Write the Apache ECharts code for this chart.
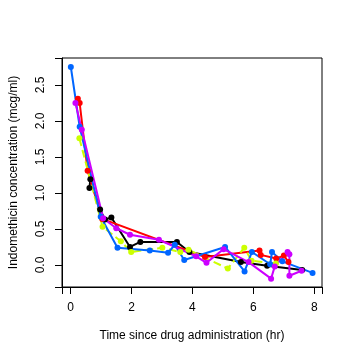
<!DOCTYPE html>
<html>
<head>
<meta charset="utf-8">
<script src="https://cdn.jsdelivr.net/npm/echarts@6/dist/echarts.min.js"></script>
<style>
  html, body { margin: 0; padding: 0; background: #fff; }
</style>
</head>
<body>
<div id="chart" style="width: 353px; height: 360px;"></div>
<script>
// time (hr) and concentration (mcg/ml), per colour
const blackX = [0.62, 0.65, 0.97, 1.13, 1.34, 1.95, 2.29, 3.49, 3.90, 5.59, 6.45, 7.60];
const blackY = [1.07, 1.19, 0.77, 0.63, 0.66, 0.25, 0.32, 0.32, 0.18, 0.04, -0.01, -0.07];

const redX = [0.24, 0.30, 0.56, 1.04, 4.41, 6.20, 6.24, 6.75, 7.00, 7.15];
const redY = [2.31, 2.25, 1.31, 0.64, 0.11, 0.20, 0.14, 0.09, 0.13, 0.04];

const yellowX = [0.29, 1.05, 1.65, 1.99, 3.01, 3.60, 3.87, 5.16, 5.70, 5.94, 6.74];
const yellowY = [1.76, 0.53, 0.33, 0.18, 0.24, 0.18, 0.21, -0.05, 0.24, 0.06, 0.02];

const blueX = [0.01, 0.30, 0.99, 1.54, 2.60, 3.20, 3.42, 3.73, 5.07, 5.71, 5.95, 6.55, 6.61, 6.95, 7.94];
const blueY = [2.75, 1.92, 0.67, 0.24, 0.20, 0.17, 0.28, 0.07, 0.25, -0.09, 0.18, 0.01, 0.18, 0.05, -0.11];

const magentaX = [0.16, 0.37, 1.07, 1.50, 1.95, 2.90, 4.12, 4.46, 5.02, 5.84, 6.58, 6.70, 7.12, 7.18, 7.18, 7.58];
const magentaY = [2.25, 1.88, 0.65, 0.51, 0.42, 0.35, 0.12, 0.03, 0.22, 0.04, -0.19, -0.02, 0.18, 0.15, -0.15, -0.08];

const xTicks = [0, 2, 4, 6, 8];
const yTicks = [0, 0.5, 1, 1.5, 2, 2.5];

const pairs = (xs, ys) => xs.map((x, i) => [x, ys[i]]);

const groups = [
  { name: 'black', color: '#000000', dash: 'solid', data: pairs(blackX, blackY) },
  { name: 'red', color: '#FF0000', dash: 'solid', data: pairs(redX, redY) },
  { name: 'yellow', color: '#CCFF00', dash: 'dashed', data: pairs(yellowX, yellowY) },
  { name: 'blue', color: '#0066FF', dash: 'solid', data: pairs(blueX, blueY) },
  { name: 'magenta', color: '#CC00FF', dash: 'solid', data: pairs(magentaX, magentaY) }
];

const font = 'Liberation Sans';
const tickStyle = { show: true, inside: false, length: 7, lineStyle: { color: '#000', width: 1 } };

const chart = echarts.init(document.getElementById('chart'));
chart.setOption({
  animation: false,
  grid: {
    left: 58, right: 31, top: 58, bottom: 73,
    show: true, borderColor: '#000', borderWidth: 1, backgroundColor: 'transparent'
  },
  xAxis: {
    type: 'value',
    min: -0.28, max: 8.25,
    splitNumber: 4,
    name: 'Time since drug administration (hr)',
    nameLocation: 'middle',
    nameGap: 43,
    nameTextStyle: { fontFamily: font, fontSize: 12, color: '#000' },
    axisLine: { show: true, onZero: false, lineStyle: { color: '#000', width: 1 } },
    axisTick: tickStyle,
    axisLabel: { customValues: xTicks, margin: 15, fontFamily: font, fontSize: 12, color: '#000' },
    splitLine: { show: false }
  },
  yAxis: {
    type: 'value',
    min: -0.306, max: 2.875,
    splitNumber: 6,
    name: 'Indomethicin concentration (mcg/ml)',
    nameLocation: 'middle',
    nameGap: 42,
    nameTextStyle: { fontFamily: font, fontSize: 12, color: '#000' },
    axisLine: { show: true, onZero: false, lineStyle: { color: '#000', width: 1 } },
    axisTick: tickStyle,
    axisLabel: {
      customValues: yTicks, rotate: 90, margin: 15,
      fontFamily: font, fontSize: 12, color: '#000',
      formatter: v => v.toFixed(1)
    },
    splitLine: { show: false }
  },
  series: groups.map(g => ({
    name: g.name,
    type: 'line',
    data: g.data,
    symbol: 'circle',
    symbolSize: 6,
    showAllSymbol: true,
    itemStyle: { color: g.color },
    lineStyle: { color: g.color, width: 2, type: g.dash }
  }))
});
</script>
</body>
</html>
